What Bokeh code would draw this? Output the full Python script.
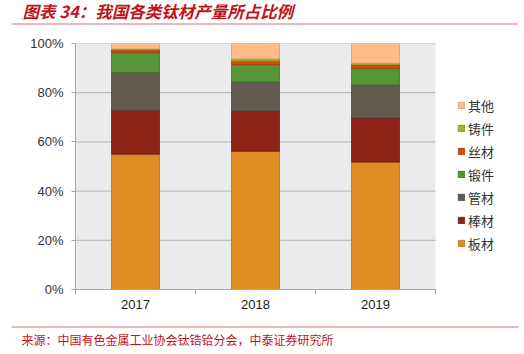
from bokeh.plotting import figure
from bokeh.layouts import column
from bokeh.models import (ColumnDataSource, Range1d, FixedTicker, NumeralTickFormatter,
                          Legend, LegendItem, Label, BoxAnnotation)
from bokeh.embed import file_html
from bokeh.resources import INLINE

years = ["2017", "2018", "2019"]
series = ["板材", "棒材", "管材", "锻件", "丝材", "铸件", "其他"]
banc = [0.550, 0.562, 0.518]
bangc = [0.179, 0.164, 0.179]
guanc = [0.153, 0.118, 0.134]
duanj = [0.082, 0.070, 0.067]
sic = [0.010, 0.014, 0.015]
zhuj = [0.004, 0.009, 0.007]
qita = [0.022, 0.063, 0.080]
yticks = [0, 0.2, 0.4, 0.6, 0.8, 1.0]
title_text = "图表 34：我国各类钛材产量所占比例"
source_text = "来源：中国有色金属工业协会钛锆铪分会，中泰证券研究所"

colors = ["#DF8C20", "#8F2318", "#635B51", "#559437", "#CF4A0C", "#A2B41E", "#FFBB88"]
edges = ["#B87018", "#6E1A12", "#4C463E", "#3F7028", "#A63A08", "#7E8C16", "#D99A70"]
RED = "#C0141C"
RULE = "#E07070"
W = 524


def strip(h):
    f = figure(width=W, height=h, output_backend="svg", toolbar_location=None,
               x_axis_type=None, y_axis_type=None, frame_align=False,
               x_range=Range1d(0, W), y_range=Range1d(0, h),
               min_border_left=0, min_border_right=0, min_border_top=0, min_border_bottom=0)
    f.grid.visible = False
    f.outline_line_color = None
    f.border_fill_color = None
    f.background_fill_color = None
    return f


# ---------- header strip ----------
top_h = 30
pt = strip(top_h)
pt.add_layout(Label(x=22, y=top_h - 10, text=title_text, text_font="Noto Sans CJK SC",
                    text_font_style="bold italic", text_font_size="16.5px",
                    text_color=RED, text_baseline="middle"))
pt.segment(x0=[11], x1=[518], y0=[top_h - 23.5], y1=[top_h - 23.5],
           line_color=RULE, line_width=1.2)

# ---------- main chart ----------
main_h = 286
n = len(years)
frame_w = W - 75
x_end = n * frame_w / 360.0
xpos = [i + 0.5 for i in range(n)]
src = ColumnDataSource(dict(x=xpos, 板材=banc, 棒材=bangc, 管材=guanc, 锻件=duanj,
                            丝材=sic, 铸件=zhuj, 其他=qita))

p = figure(width=W, height=main_h, output_backend="svg", toolbar_location=None,
           frame_align=False,
           x_range=Range1d(0, x_end), y_range=Range1d(0, 1),
           min_border_left=75, min_border_right=0, min_border_top=13, min_border_bottom=27)
p.border_fill_color = None
p.background_fill_color = None
p.outline_line_color = None

p.add_layout(BoxAnnotation(left=0, right=n, bottom=0, top=1, fill_color="#EBEBEB",
                           fill_alpha=1, line_color=None, level="underlay"))
p.segment(x0=[0] * len(yticks), x1=[n] * len(yticks), y0=yticks, y1=yticks,
          line_color="#B5B5B5", line_width=1)

rs = p.vbar_stack(series, x="x", width=0.4, source=src, color=colors,
                  line_color=edges, line_width=0.8)

p.yaxis.ticker = FixedTicker(ticks=yticks)
p.yaxis.formatter = NumeralTickFormatter(format="0%")
p.yaxis.major_tick_out = 4
p.yaxis.major_tick_in = 0
p.yaxis.minor_tick_line_color = None
p.yaxis.axis_line_color = "#A8A8A8"
p.yaxis.major_tick_line_color = "#A8A8A8"
p.yaxis.major_label_text_font = "Liberation Sans"
p.yaxis.major_label_text_font_size = "13px"
p.yaxis.major_label_text_color = "#333333"
p.yaxis.major_label_standoff = 8

p.xaxis.bounds = (0, n)
p.xaxis.ticker = FixedTicker(ticks=xpos, minor_ticks=list(range(n + 1)))
p.xaxis.major_label_overrides = {x: y for x, y in zip(xpos, years)}
p.xaxis.major_tick_line_color = None
p.xaxis.minor_tick_out = 5
p.xaxis.minor_tick_in = 0
p.xaxis.minor_tick_line_color = "#A8A8A8"
p.xaxis.axis_line_color = "#A8A8A8"
p.xaxis.major_label_text_font = "Liberation Sans"
p.xaxis.major_label_text_font_size = "13px"
p.xaxis.major_label_text_color = "#222222"
p.xaxis.major_label_standoff = 4

p.grid.visible = False

items = [LegendItem(label=s, renderers=[r]) for s, r in zip(series, rs)][::-1]
legend = Legend(items=items, location=(382, 36), padding=0, margin=0,
                glyph_width=8, glyph_height=8, label_height=20, spacing=3,
                label_standoff=3, label_text_font="Noto Sans CJK SC",
                label_text_font_size="13px", label_text_color="#333333",
                background_fill_alpha=0, border_line_color=None)
p.add_layout(legend, "center")

# ---------- footer strip ----------
bot_h = 354 - top_h - main_h
pb = strip(bot_h)
pb.segment(x0=[11], x1=[518], y0=[bot_h - 10.5], y1=[bot_h - 10.5],
           line_color=RULE, line_width=1.2)
pb.add_layout(Label(x=21, y=bot_h - 23, text=source_text, text_font="Noto Sans CJK SC",
                    text_font_size="12px", text_color=RED, text_baseline="middle"))

layout = column(pt, p, pb, spacing=0)
open("out.html", "w").write(file_html(layout, INLINE))
